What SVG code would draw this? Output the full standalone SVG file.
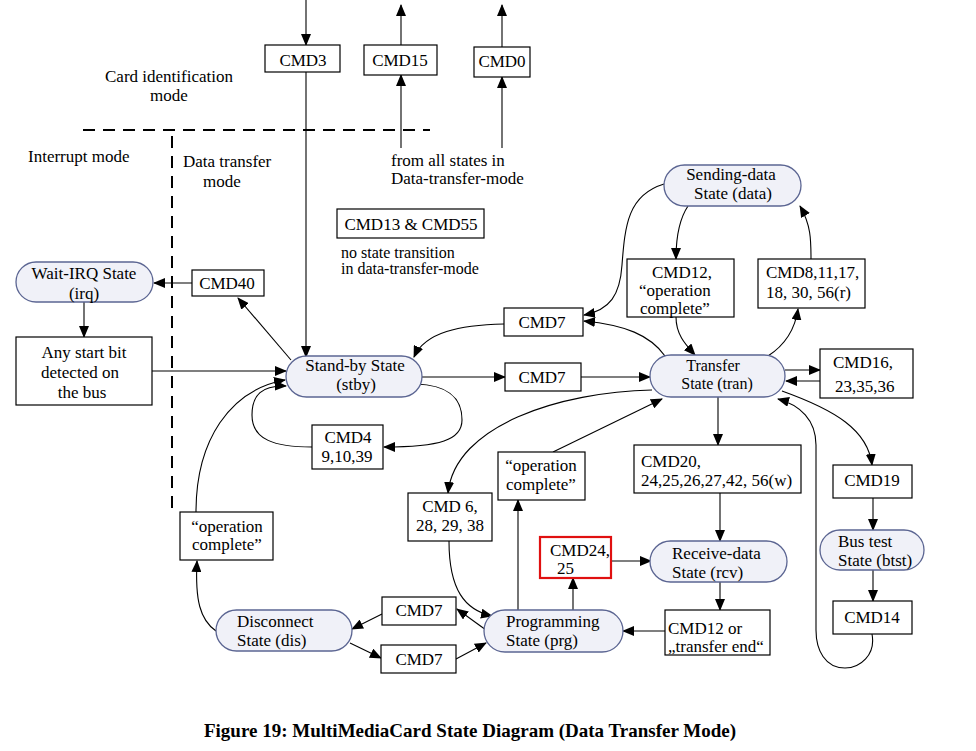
<svg xmlns="http://www.w3.org/2000/svg" width="976" height="751" viewBox="0 0 976 751" font-family="'Liberation Serif', 'Times New Roman', 'DejaVu Serif', serif">
<defs>
<marker id="ah" markerWidth="12" markerHeight="10" refX="11" refY="5" orient="auto" markerUnits="userSpaceOnUse">
<path d="M0,0 L12,5 L0,10 Z" fill="#000"/>
</marker>
</defs>
<style>
text{font-family:'Liberation Serif','Times New Roman','DejaVu Serif',serif;font-size:17px;fill:#000}
.m{text-anchor:middle}
.box{fill:#fff;stroke:#000;stroke-width:1.2}
.red{fill:#fff;stroke:#e01010;stroke-width:2.2}
.st{fill:#f0f1f8;stroke:#5b6592;stroke-width:1.3}
.c path,.c line{fill:none;stroke:#000;stroke-width:1.1}
.a{marker-end:url(#ah)}
.dash{fill:none;stroke:#000;stroke-width:2;stroke-dasharray:12,8}
.cap{font-weight:bold;font-size:19px}
.sm{font-size:16px}
</style>
<rect width="976" height="751" fill="#fff"/>

<g id="mode-lines">
<line class="dash" x1="83" y1="130" x2="430" y2="130"/>
<line class="dash" x1="172" y1="136" x2="172" y2="508"/>
</g>

<g id="labels">
<text class="m" x="169" y="82">Card identification</text>
<text class="m" x="169" y="101">mode</text>
<text x="28" y="162">Interrupt mode</text>
<text x="183" y="167">Data transfer</text>
<text class="m" x="222" y="187">mode</text>
<text x="391" y="166">from all states in</text>
<text x="391" y="184">Data-transfer-mode</text>
<text class="sm" x="341" y="258">no state transition</text>
<text class="sm" x="341" y="274">in data-transfer-mode</text>
<text class="m cap" x="470" y="737">Figure 19: MultiMediaCard State Diagram (Data Transfer Mode)</text>
</g>

<g class="c" id="connectors">
<line class="a" x1="306" y1="0" x2="306" y2="45"/>
<line class="a" x1="306" y1="72" x2="306" y2="357"/>
<line class="a" x1="401" y1="45" x2="401" y2="5"/>
<line class="a" x1="401" y1="148" x2="401" y2="75"/>
<line class="a" x1="502" y1="47" x2="502" y2="5"/>
<line class="a" x1="502" y1="148" x2="502" y2="77"/>
<line class="a" x1="192" y1="283" x2="154" y2="283"/>
<line class="a" x1="291" y1="360" x2="238" y2="298"/>
<line class="a" x1="84" y1="302" x2="84" y2="337"/>
<line class="a" x1="152" y1="371" x2="286" y2="371"/>
<path class="a" d="M216,631 C200,620 195,600 197,561"/>
<path class="a" d="M196,512 C196,440 230,390 285,380"/>
<path class="a" d="M416,384 C445,385 462,395 462,420 C462,440 440,447 384,447"/>
<path class="a" d="M312,447 C275,447 252,440 252,415 C252,395 262,385 286,386"/>
<line class="a" x1="422" y1="377" x2="505" y2="377"/>
<line class="a" x1="581" y1="377" x2="650" y2="377"/>
<path class="a" d="M665,356 C650,335 625,325 584,321"/>
<path class="a" d="M504,324 C460,325 425,332 414,357"/>
<path class="a" d="M664,184 C628,195 625,225 622,265 C620,295 610,310 584,315"/>
<path class="a" d="M688,206 C680,218 676,235 676,259"/>
<path class="a" d="M676,317 C676,335 686,345 695,355"/>
<path class="a" d="M768,356 C785,345 795,330 798,309"/>
<path class="a" d="M811,259 C811,240 811,225 800,206"/>
<line class="a" x1="785" y1="370" x2="820" y2="370"/>
<line class="a" x1="820" y1="381" x2="786" y2="381"/>
<line class="a" x1="718" y1="397" x2="718" y2="445"/>
<line class="a" x1="720" y1="493" x2="720" y2="541"/>
<line class="a" x1="720" y1="582" x2="720" y2="610"/>
<line class="a" x1="665" y1="631" x2="623" y2="631"/>
<line class="a" x1="573" y1="610" x2="573" y2="578"/>
<line class="a" x1="612" y1="561" x2="651" y2="561"/>
<line class="a" x1="518" y1="610" x2="518" y2="500"/>
<line class="a" x1="553" y1="452" x2="662" y2="399"/>
<path class="a" d="M652,390 C560,392 455,425 448,493"/>
<path class="a" d="M449,541 C449,590 465,610 492,616"/>
<line class="a" x1="486" y1="630" x2="457" y2="609"/>
<line class="a" x1="382" y1="614" x2="352" y2="629"/>
<line class="a" x1="350" y1="643" x2="381" y2="658"/>
<line class="a" x1="456" y1="659" x2="486" y2="643"/>
<path class="a" d="M782,391 C835,410 868,430 872,465"/>
<line class="a" x1="873" y1="498" x2="873" y2="530"/>
<line class="a" x1="873" y1="570" x2="873" y2="601"/>
<path class="a" d="M872,634 C876,655 860,668 845,668 C825,668 816,650 816,630 L816,445 C816,420 800,405 778,399"/>
</g>

<g id="cmd3"><rect class="box" x="265" y="45" width="75" height="27"/><text class="m" x="303" y="66">CMD3</text></g>
<g id="cmd15"><rect class="box" x="364" y="45" width="73" height="30"/><text class="m" x="400" y="66">CMD15</text></g>
<g id="cmd0"><rect class="box" x="474" y="47" width="56" height="30"/><text class="m" x="502" y="67">CMD0</text></g>
<g id="cmd13-55"><rect class="box" x="337" y="209" width="147" height="29"/><text class="m" x="411" y="230">CMD13 &amp; CMD55</text></g>

<g id="data"><rect class="st" x="664" y="165" width="137" height="41" rx="20.5"/><text class="m" x="731" y="180">Sending-data</text><text class="m" x="733" y="199">State (data)</text></g>
<g id="irq"><rect class="st" x="16" y="262" width="137" height="40" rx="20"/><text class="m" x="84" y="279">Wait-IRQ State</text><text class="m" x="84" y="299">(irq)</text></g>
<g id="cmd40"><rect class="box" x="192" y="270" width="72" height="26"/><text class="m" x="227" y="289">CMD40</text></g>
<g id="startbit"><rect class="box" x="16" y="337" width="136" height="68"/><text class="m" x="84" y="358">Any start bit</text><text class="m" x="80" y="378">detected on</text><text class="m" x="82" y="398">the bus</text></g>
<g id="stby"><rect class="st" x="286" y="356" width="136" height="41" rx="20.5"/><text class="m" x="355" y="371">Stand-by State</text><text class="m" x="356" y="390">(stby)</text></g>
<g id="cmd7-a"><rect class="box" x="504" y="308" width="79" height="28"/><text class="m" x="542" y="328">CMD7</text></g>
<g id="cmd7-b"><rect class="box" x="505" y="363" width="76" height="28"/><text class="m" x="542" y="383">CMD7</text></g>
<g id="tran"><rect class="st" x="650" y="355" width="135" height="42" rx="21"/><text class="m sm" x="713" y="371">Transfer</text><text class="m sm" x="717" y="389">State (tran)</text></g>
<g id="cmd12-oc"><rect class="box" x="627" y="259" width="107" height="58"/><text x="652" y="278">CMD12,</text><text x="639" y="296">“operation</text><text x="640" y="314">complete”</text></g>
<g id="cmd8"><rect class="box" x="758" y="259" width="107" height="49"/><text x="766" y="278">CMD8,11,17,</text><text x="766" y="298">18, 30, 56(r)</text></g>
<g id="cmd16"><rect class="box" x="820" y="349" width="93" height="49"/><text x="833" y="368">CMD16,</text><text x="835" y="392">23,35,36</text></g>
<g id="cmd4"><rect class="box" x="312" y="425" width="71" height="44"/><text class="m" x="348" y="443">CMD4</text><text class="m" x="347" y="462">9,10,39</text></g>
<g id="cmd6"><rect class="box" x="408" y="493" width="84" height="48"/><text class="m" x="450" y="512">CMD 6,</text><text class="m" x="450" y="531">28, 29, 38</text></g>
<g id="opc-mid"><rect class="box" x="498" y="452" width="87" height="48"/><text class="m" x="541" y="471">“operation</text><text class="m" x="541" y="490">complete”</text></g>
<g id="cmd20"><rect class="box" x="634" y="445" width="167" height="48"/><text x="641" y="467">CMD20,</text><text x="641" y="486">24,25,26,27,42, 56(w)</text></g>
<g id="cmd19"><rect class="box" x="833" y="465" width="79" height="33"/><text class="m" x="872" y="486">CMD19</text></g>
<g id="opc-left"><rect class="box" x="180" y="512" width="93" height="48"/><text class="m" x="227" y="532">“operation</text><text class="m" x="227" y="550">complete”</text></g>
<g id="cmd24"><rect class="red" x="540" y="537" width="71" height="41"/><text x="550" y="556">CMD24,</text><text x="557" y="574">25</text></g>
<g id="rcv"><rect class="st" x="650" y="541" width="137" height="41" rx="20.5"/><text x="672" y="559">Receive-data</text><text x="672" y="578">State (rcv)</text></g>
<g id="btst"><rect class="st" x="820" y="530" width="104" height="40" rx="20"/><text x="838" y="547">Bus test</text><text x="838" y="566">State (btst)</text></g>
<g id="cmd14"><rect class="box" x="833" y="601" width="79" height="33"/><text class="m" x="872" y="623">CMD14</text></g>
<g id="dis"><rect class="st" x="216" y="610" width="136" height="41" rx="20.5"/><text x="237" y="627">Disconnect</text><text x="237" y="646">State (dis)</text></g>
<g id="cmd7-c"><rect class="box" x="382" y="597" width="74" height="28"/><text class="m" x="419" y="616">CMD7</text></g>
<g id="cmd7-d"><rect class="box" x="381" y="645" width="75" height="28"/><text class="m" x="419" y="665">CMD7</text></g>
<g id="prg"><rect class="st" x="484" y="610" width="139" height="42" rx="21"/><text x="506" y="627">Programming</text><text x="506" y="646">State (prg)</text></g>
<g id="cmd12-te"><rect class="box" x="665" y="610" width="105" height="45"/><text x="668" y="634">CMD12 or</text><text x="668" y="652">„transfer end“</text></g>
</svg>
